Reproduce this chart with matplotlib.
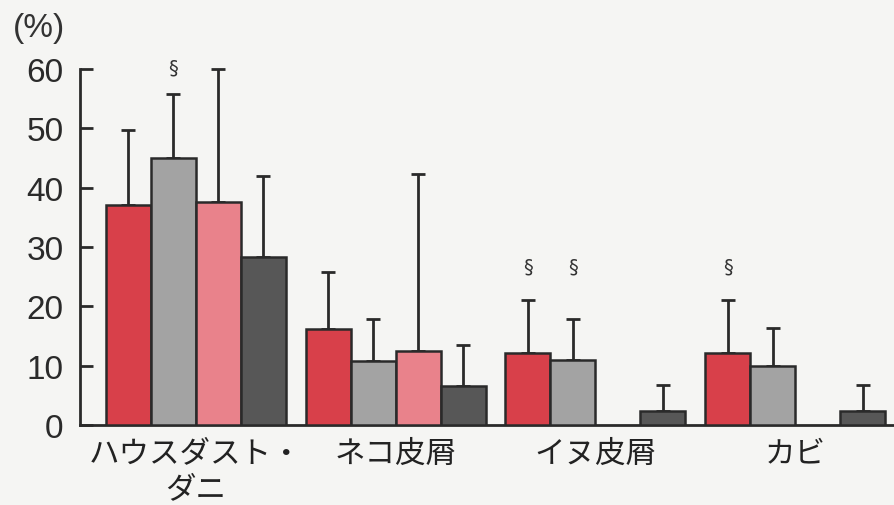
import numpy as np
import matplotlib
matplotlib.use("Agg")
import matplotlib.pyplot as plt

plt.rcParams['font.family'] = ['Noto Sans CJK JP', 'DejaVu Sans']

categories = ["ハウスダスト・\nダニ", "ネコ皮屑", "イヌ皮屑", "カビ"]
series_red = [37.0, 16.2, 12.1, 12.1]
series_gray = [45.0, 10.8, 11.0, 10.0]
series_pink = [37.6, 12.5, np.nan, np.nan]
series_dark = [28.3, 6.6, 2.4, 2.4]
err_red = [49.7, 25.8, 21.1, 21.1]
err_gray = [55.8, 17.9, 17.9, 16.4]
err_pink = [60.0, 42.3, np.nan, np.nan]
err_dark = [42.0, 13.5, 6.7, 6.7]
# significance marks: (category index, series index, height)
sig_marks = [(0, 1, 60.4), (2, 0, 26.8), (2, 1, 26.8), (3, 0, 26.8)]
yticks = [0, 10, 20, 30, 40, 50, 60]

values = [series_red, series_gray, series_pink, series_dark]
errtops = [err_red, err_gray, err_pink, err_dark]
colors = ["#d8404a", "#a3a3a3", "#e9828b", "#575757"]

fig = plt.figure(figsize=(8.94, 5.06), dpi=100)
bg = "#f5f5f3"
fig.patch.set_facecolor(bg)
ax = fig.add_axes([80/894, 80/506, 1 - 80/894, 356/506])
ax.set_facecolor(bg)

x = np.arange(len(categories))
w = 0.225
for i, (vals, tops, c) in enumerate(zip(values, errtops, colors)):
    xs = x + (i - 1.5) * w
    v = np.array(vals, dtype=float)
    t = np.array(tops, dtype=float)
    ax.bar(xs, v, width=w, color=c, edgecolor="#2a2a2a", linewidth=1.8, zorder=3)
    ax.errorbar(xs, v, yerr=[np.zeros_like(v), t - v], fmt="none",
                ecolor="#2a2a2a", elinewidth=2, capsize=5, capthick=2,
                zorder=2, clip_on=False)

for (gi, si, h) in sig_marks:
    ax.text(x[gi] + (si - 1.5) * w, h, "§", ha="center", va="center",
            fontsize=14, color="#333333", family=['DejaVu Sans'])

ax.set_xlim(-0.58, 3.495)
ax.set_ylim(0, 60)
ax.set_yticks(yticks)
ax.set_yticklabels([str(t) for t in yticks], fontsize=24, family=['Liberation Sans', 'DejaVu Sans'])
ax.tick_params(axis='y', direction='in', length=9, width=2, pad=12, colors="#2a2a2a")
ax.tick_params(axis='x', length=0, pad=9)
ax.set_xticks(x)
ax.set_xticklabels(categories, fontsize=22, linespacing=1.2, color="#222222")
for s in ["top", "right"]:
    ax.spines[s].set_visible(False)
for s in ["left", "bottom"]:
    ax.spines[s].set_linewidth(2)
    ax.spines[s].set_color("#2a2a2a")

fig.text(13/894, 1 - 28/506, "(%)", fontsize=24, va="center", ha="left",
         family=['Liberation Sans', 'DejaVu Sans'], color="#333333")

fig.savefig("out.png", dpi=100, facecolor=bg)
